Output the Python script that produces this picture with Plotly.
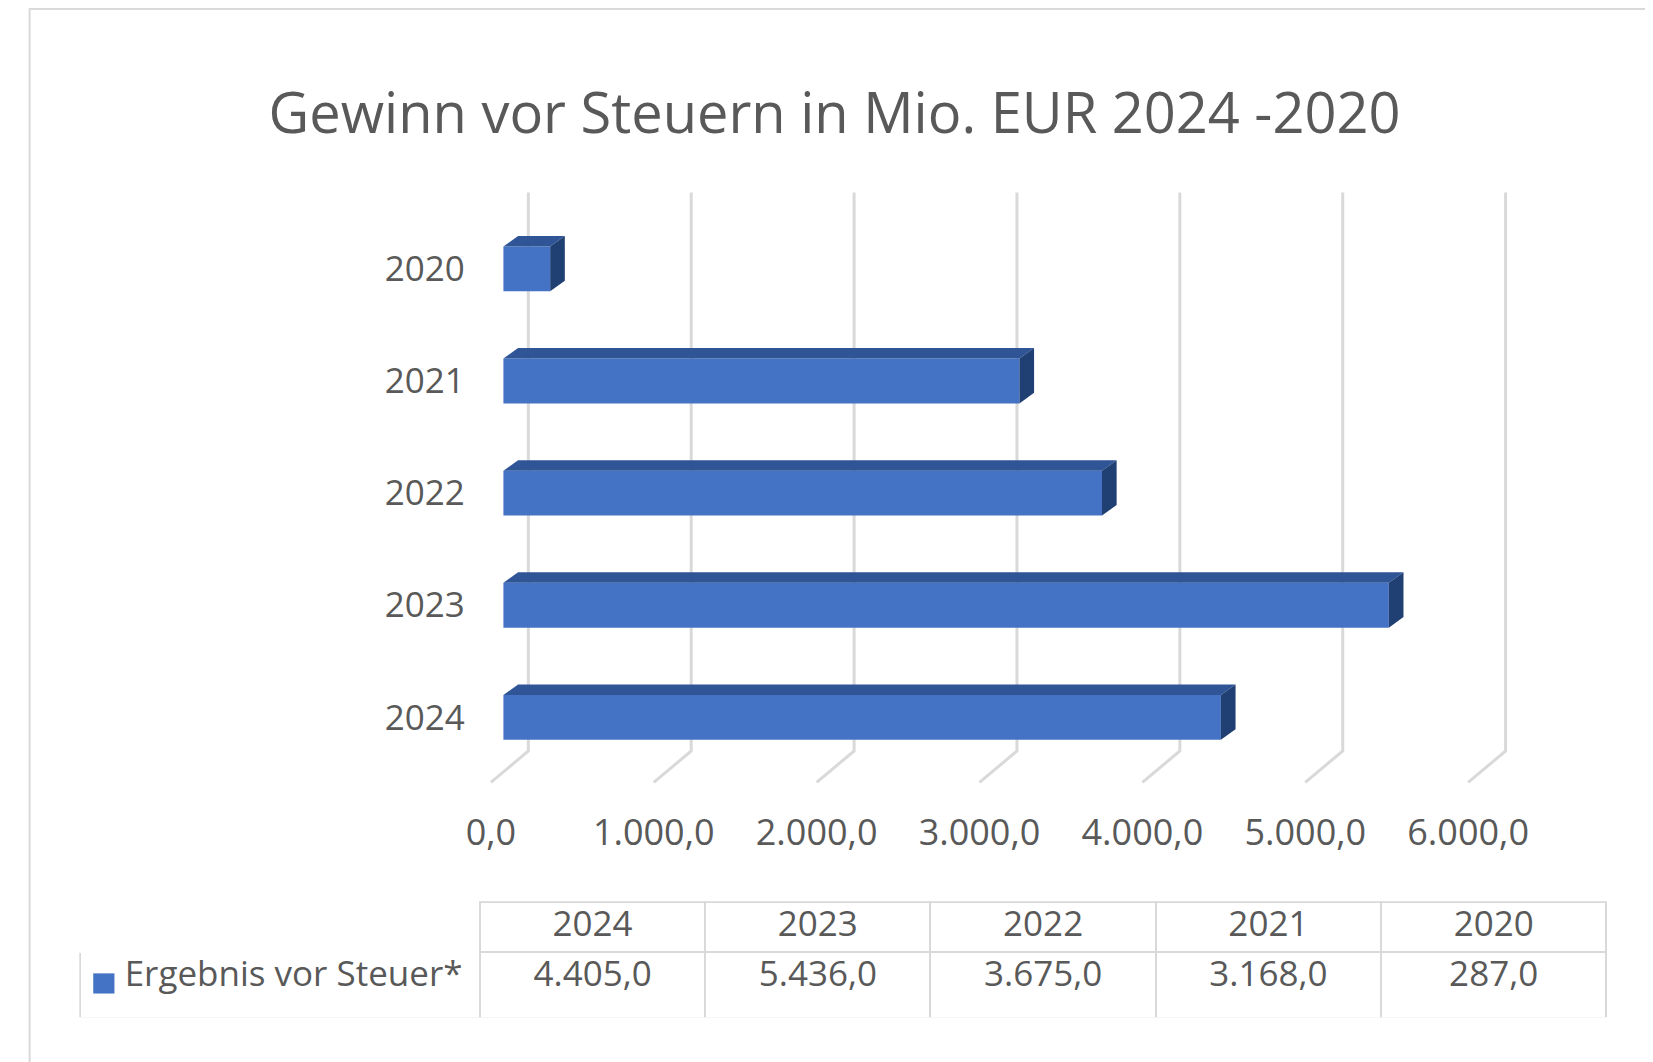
import plotly.graph_objects as go

years = ["2024", "2023", "2022", "2021", "2020"]
values = [4405.0, 5436.0, 3675.0, 3168.0, 287.0]
x_ticks = [0, 1000, 2000, 3000, 4000, 5000, 6000]
series_name = "Ergebnis vor Steuer*"

W, H = 1653, 1062
FONT = "Open Sans"
GRAY = "#595959"
BLUE = "#4472C4"
TOP = "#2F5597"
SIDE = "#203F73"

def de(v):
    s = f"{v:,.1f}"
    return s.replace(",", "X").replace(".", ",").replace("X", ".")

dx, dy, half = 90, 0.094, 0.2
back_off, front_off = 153, -77
y_top, y_floor_back, y_floor_front = 4.68, -0.30, -0.58

fig = go.Figure()
shapes = []
# gridlines (3D walls), behind the bars
for t in x_ticks:
    shapes.append(dict(type="path", xref="x", yref="y", layer="below",
                       path=f"M {t + back_off},{y_top} L {t + back_off},{y_floor_back} L {t + front_off},{y_floor_front}",
                       line=dict(color="#d9d9d9", width=3)))

idx = list(range(len(years)))
fig.add_trace(go.Bar(x=values, y=idx, orientation="h", width=2 * half,
                     marker=dict(color=BLUE, line=dict(width=0)),
                     showlegend=False))
for i, v in zip(idx, values):
    fig.add_trace(go.Scatter(
        x=[0, v, v + dx, dx, 0],
        y=[i + half, i + half, i + half + dy, i + half + dy, i + half],
        fill="toself", fillcolor=TOP, line=dict(width=0), mode="lines",
        hoverinfo="skip", showlegend=False))
    fig.add_trace(go.Scatter(
        x=[v, v + dx, v + dx, v, v],
        y=[i - half, i - half + dy, i + half + dy, i + half, i - half],
        fill="toself", fillcolor=SIDE, line=dict(width=0), mode="lines",
        hoverinfo="skip", showlegend=False))

fig.add_trace(go.Table(
    domain=dict(x=[53 / W, 1600 / W], y=[0.049, 0.158]),
    columnwidth=[385, 217, 217, 217, 217, 217],
    header=dict(values=[""] + years,
                line=dict(color=["white"] + ["#d9d9d9"] * 5, width=2),
                fill=dict(color="white"), align="center", height=50,
                font=dict(family=FONT, size=35, color=GRAY)),
    cells=dict(values=[["\u00a0\u00a0\u00a0\u00a0" + series_name]] + [[de(v)] for v in values],
               line=dict(color="#d9d9d9", width=2),
               fill=dict(color="white"), align=["left"] + ["center"] * 5, height=66,
               font=dict(family=FONT, size=35, color=GRAY))))

# legend key in the data table
shapes.append(dict(type="rect", xref="paper", yref="paper", x0=0.040, x1=0.053, y0=0.072, y1=0.091,
                   fillcolor=BLUE, line=dict(width=0)))
shapes.append(dict(type="rect", xref="paper", yref="paper", x0=0.001, x1=0.999, y0=0.001, y1=0.999,
                   line=dict(color="#d9d9d9", width=2)))

fig.update_layout(
    width=W, height=H, margin=dict(l=0, r=0, t=0, b=0),
    paper_bgcolor="white", plot_bgcolor="white",
    title=dict(text="Gewinn vor Steuern in Mio. EUR 2024 -2020", x=0.5, xanchor="center",
               y=1 - 105 / H, yanchor="middle",
               font=dict(family=FONT, size=56, color=GRAY)),
    xaxis=dict(domain=[464 / W, 1518 / W], range=[-108, 6277],
               tickvals=[t + front_off for t in x_ticks], ticktext=[de(t) for t in x_ticks],
               showgrid=False, zeroline=False, showline=False, ticks="",
               ticklabelstandoff=20,
               tickfont=dict(family=FONT, size=36, color=GRAY)),
    yaxis=dict(domain=[1 - 780 / H, 1 - 179 / H], range=[-0.63, 4.73],
               tickvals=idx, ticktext=years, showgrid=False, zeroline=False,
               showline=False, ticks="", ticklabelstandoff=20,
               tickfont=dict(family=FONT, size=35, color=GRAY)),
    shapes=shapes,
)
fig.write_html("out.html")
